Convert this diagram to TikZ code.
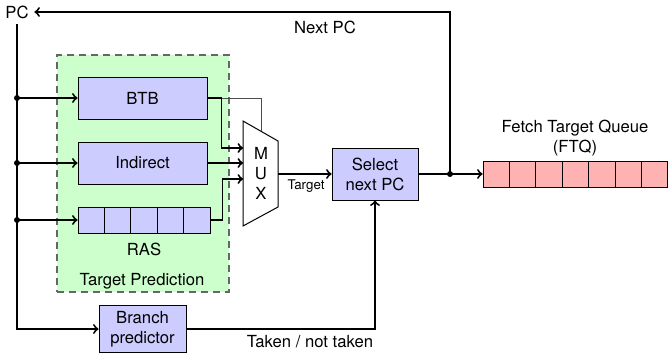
\documentclass[tikz,border=0pt]{standalone}
\usepackage{fontspec}
\setmainfont{TeX Gyre Heros}
\usetikzlibrary{positioning}
\tikzstyle{unit} = [draw, fill=blue!20, line width=0.6pt, align=center, inner sep=0pt]
\tikzstyle{cell} = [draw, fill=blue!20, line width=0.6pt, minimum width=15.84pt, minimum height=15.6pt, inner sep=0pt]
\tikzstyle{ftqcell} = [cell, fill=red!30]
\tikzstyle{region} = [draw=black!60, dash pattern=on 4.2pt off 3pt, fill=green!20, line width=0.9pt]
\tikzstyle{wire} = [line width=1.15pt]
\tikzstyle{selwire} = [draw=black!70, line width=0.5pt]
\tikzstyle{dot} = [circle, fill, inner sep=0pt, minimum size=3.6pt]

\begin{document}
\begin{tikzpicture}[x=0.6pt, y=-0.6pt, >=to]
			\useasboundingbox (0,0) rectangle (669,353);
			\node[region, minimum width=103.2pt, minimum height=142.2pt] (tp) at (143,173.5) {};
			\node (pc) at (17,12) {PC};
			\node (nextpc) at (325,27) {Next PC};
			\node[unit, minimum width=77.4pt, minimum height=25.2pt] (btb) at (142.5,98) {BTB};
			\node[unit, minimum width=77.4pt, minimum height=25.2pt] (ind) at (142.5,163) {Indirect};
			\foreach \i in {1,...,5}
				\node[cell] (ras\i) at ({91.2+26.4*(\i-1)},220) {};
			\node (raslbl) at (144,249) {RAS};
			\node (tplbl) at (142,281) {Target Prediction};
			\draw[line width=0.6pt, fill=white] (243,121) -- (278,141) -- (278,207) -- (243,226) -- cycle;
			\node[align=center] (mux) at (261,173) {M\\U\\X};
			\coordinate (in1) at (243,148);
			\coordinate (in2) at (243,163);
			\coordinate (in3) at (243,179);
			\coordinate (sel) at (261,131);
			\coordinate (mout) at (278,174);
			\node[unit, minimum width=51.6pt, minimum height=31.2pt] (next) at (375,174) {Select\\next PC};
			\node[font=\footnotesize] (tgt) at (306,186) {Target};
			\foreach \i in {1,...,7}
				\node[ftqcell] (ftq\i) at ({496.2+26.4*(\i-1)},174) {};
			\node[align=center] (ftqlbl) at (575,138) {Fetch Target Queue\\(FTQ)};
			\node[unit, minimum width=52.2pt, minimum height=28.2pt] (bp) at (142.5,329) {Branch\\predictor};
			\node (taken) at (310,342) {Taken / not taken};
			\coordinate (j) at (450,174);
			\draw[selwire] (btb.east) -| (sel);
			\draw[wire,->] (btb.east) -- ++(14,0) |- (in1);
			\draw[wire,->] (ind.east) -- (in2);
			\draw[wire,->] (ras5.east) -- ++(12,0) |- (in3);
			\draw[wire,->] (mout) -- (next.west);
			\draw[wire,->] (next.east) -- (ftq1.west);
			\draw[wire,->] (j) |- (pc.east);
			\node[dot] at (j) {};
			\draw[wire,->] (pc.south) |- (bp.west);
			\foreach \n in {btb,ind,ras1} {
				\node[dot] at (pc.south |- \n.west) {};
				\draw[wire,->] (pc.south |- \n.west) -- (\n.west);
			}
			\draw[wire,->] (bp.east) -| (next.south);
		\end{tikzpicture}
\end{document}
